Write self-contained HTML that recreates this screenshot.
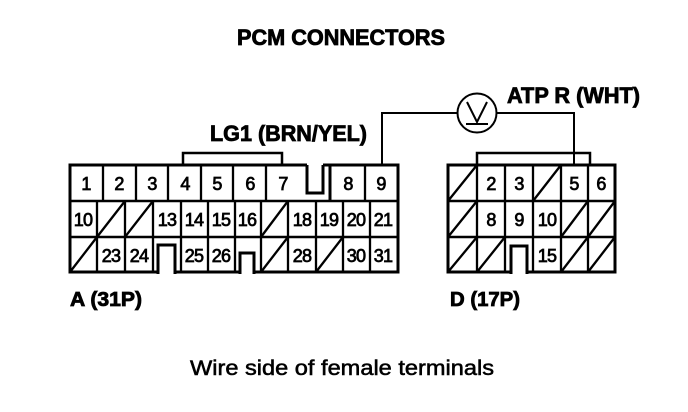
<!DOCTYPE html>
<html><head><meta charset="utf-8"><style>
html,body{margin:0;padding:0;background:#fff}
svg{display:block}
.n{font:18px "Liberation Sans",sans-serif;text-anchor:middle;stroke:#000;stroke-width:.75;fill:#000;letter-spacing:-.8px}
.t{font-family:"Liberation Sans",sans-serif;font-weight:bold;fill:#000;stroke:#000;stroke-width:.8}
.w{font-family:"Liberation Sans",sans-serif;fill:#000;stroke:#000;stroke-width:.55}
</style></head><body>
<svg width="688" height="412" viewBox="0 0 688 412" xmlns="http://www.w3.org/2000/svg">
<text class="t" x="237" y="45" font-size="22" textLength="208" lengthAdjust="spacingAndGlyphs">PCM CONNECTORS</text>
<text class="t" x="210" y="141" font-size="22" textLength="157" lengthAdjust="spacingAndGlyphs">LG1 (BRN/YEL)</text>
<text class="t" x="507" y="103" font-size="22" textLength="133" lengthAdjust="spacingAndGlyphs">ATP R (WHT)</text>
<text class="t" x="70" y="306" font-size="20" textLength="72" lengthAdjust="spacingAndGlyphs">A (31P)</text>
<text class="t" x="450" y="306" font-size="20" textLength="70" lengthAdjust="spacingAndGlyphs">D (17P)</text>
<text class="w" x="190" y="375" font-size="21" textLength="304" lengthAdjust="spacingAndGlyphs">Wire side of female terminals</text>

<g fill="none" stroke="#000" stroke-width="2.3">
<!-- wires -->
<path d="M183 165V153H282V165" stroke-width="2.5"/>
<path d="M382 165V113H457M497 113H574V165" stroke-width="2"/>
<path d="M477 165V153H590V165" stroke-width="2.5"/>
<circle cx="477" cy="113" r="19.5" stroke-width="2"/>
<path d="M467 102L477 122L487 102M466 124H488" stroke-width="2"/>

<!-- connector A outer -->
<path d="M307 165H70V272H398V165H323" stroke-width="3"/>
<path d="M70 201H398M70 237H398" stroke-width="2.5"/>
<path d="M103 165V201M136 165V201M168 165V201M201 165V201M233 165V201M266 165V201M365 165V201"/>
<path d="M307 165V193H323V165M330 165V201" stroke-width="3"/>
<!-- row 2 -->
<path d="M97 201V272M125 201V272M153 201V272M181 201V272M208 201V272M235 201V272M261 201V272M288 201V272M316 201V272M343 201V272M370 201V272"/>
<!-- diagonals A -->
<path d="M97 237L125 201M125 237L153 201M261 237L288 201M70 272L97 237M261 272L288 237M316 272L343 237"/>

<!-- connector D -->
<path d="M448 165H615V272H448Z" stroke-width="3"/>
<path d="M448 201H615M448 237H615" stroke-width="2.5"/>
<path d="M477 165V272M505 165V272M533 165V272M561 165V272M588 165V272"/>
<path d="M448 201L477 165M533 201L561 165M448 237L477 201M561 237L588 201M588 237L615 201M448 272L477 237M477 272L505 237M561 272L588 237M588 272L615 237"/>
</g>
<!-- open-bottom notches -->
<rect x="159.5" y="270" width="14" height="4" fill="#fff"/>
<rect x="241.5" y="270" width="11" height="4" fill="#fff"/>
<rect x="512.5" y="270" width="13" height="4" fill="#fff"/>
<path d="M158 274V245H175V274M240 274V253H254V274M511 274V246H527V274" fill="none" stroke="#000" stroke-width="3"/>

<g class="n">
<text x="86" y="190">1</text><text x="119" y="190">2</text><text x="152" y="190">3</text><text x="185" y="190">4</text><text x="217" y="190">5</text><text x="250" y="190">6</text><text x="283" y="190">7</text><text x="348" y="190">8</text><text x="381" y="190">9</text>
<text x="83" y="226">10</text><text x="167" y="226">13</text><text x="194" y="226">14</text><text x="221" y="226">15</text><text x="247" y="226">16</text><text x="302" y="226">18</text><text x="329" y="226">19</text><text x="356" y="226">20</text><text x="383" y="226">21</text>
<text x="111" y="262">23</text><text x="139" y="262">24</text><text x="194" y="262">25</text><text x="221" y="262">26</text><text x="302" y="262">28</text><text x="356" y="262">30</text><text x="383" y="262">31</text>
<text x="491" y="190">2</text><text x="519" y="190">3</text><text x="574" y="190">5</text><text x="601" y="190">6</text>
<text x="491" y="226">8</text><text x="519" y="226">9</text><text x="547" y="226">10</text><text x="547" y="262">15</text>
</g>
</svg>
</body></html>
